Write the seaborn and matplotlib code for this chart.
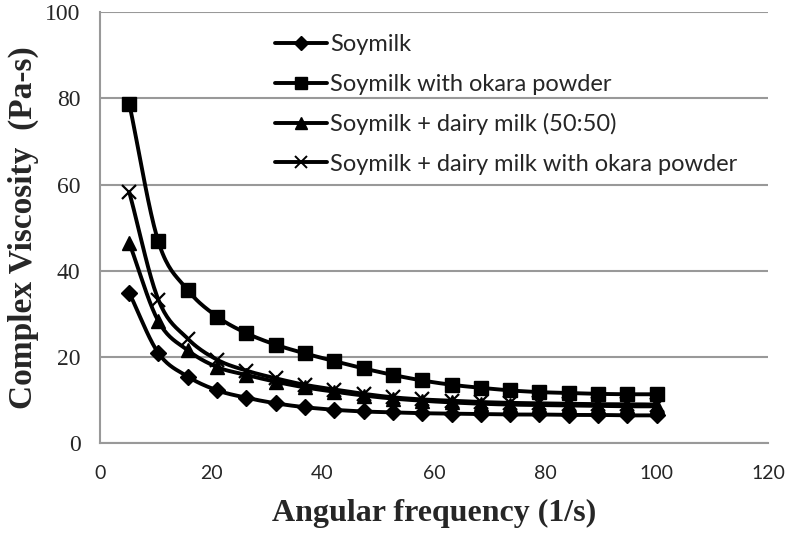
import matplotlib
matplotlib.use("Agg")
import matplotlib.pyplot as plt
import seaborn as sns
import pandas as pd
import numpy as np

# Angular frequency (1/s)
frequency = [5.3, 10.5, 15.8, 21.1, 26.3, 31.6, 36.8, 42.1, 47.4, 52.6,
             57.9, 63.2, 68.4, 73.7, 78.9, 84.2, 89.5, 94.7, 100.0]

# Complex viscosity (Pa-s) for each sample
soymilk = [34.8, 20.9, 15.4, 12.2, 10.5, 9.2, 8.3, 7.7, 7.3, 7.1,
           6.9, 6.8, 6.7, 6.6, 6.6, 6.5, 6.5, 6.4, 6.4]
soymilk_okara = [78.7, 46.8, 35.5, 29.3, 25.5, 22.8, 20.8, 19.0, 17.3, 15.8,
                 14.5, 13.5, 12.8, 12.2, 11.8, 11.6, 11.4, 11.3, 11.3]
soy_dairy = [46.4, 28.3, 21.5, 17.6, 15.8, 14.2, 12.9, 11.9, 11.0, 10.3,
             9.8, 9.4, 9.1, 8.9, 8.8, 8.7, 8.6, 8.5, 8.5]
soy_dairy_okara = [58.2, 33.3, 24.2, 19.3, 16.8, 15.0, 13.5, 12.4, 11.4, 10.6,
                   10.1, 9.8, 9.5, 9.3, 9.2, 9.1, 9.0, 9.0, 8.9]

labels = ['Soymilk', 'Soymilk with okara powder',
          'Soymilk + dairy milk (50:50)',
          'Soymilk + dairy milk with okara powder']
markers = ['D', 's', '^', 'x']
msizes = [8, 10, 10, 10]

sns.set_style('white')


#   Curva suavizada tipo Excel (Catmull-Rom) entre los puntos
def smooth(x, y, n=20):
    x = np.asarray(x, float)
    y = np.asarray(y, float)
    px = np.concatenate([[2 * x[0] - x[1]], x, [2 * x[-1] - x[-2]]])
    py = np.concatenate([[2 * y[0] - y[1]], y, [2 * y[-1] - y[-2]]])
    xs, ys = [], []
    t = np.linspace(0, 1, n, endpoint=False)
    for i in range(1, len(px) - 2):
        for p, out in ((px, xs), (py, ys)):
            p0, p1, p2, p3 = p[i - 1], p[i], p[i + 1], p[i + 2]
            out.extend(0.5 * ((2 * p1) + (-p0 + p2) * t
                              + (2 * p0 - 5 * p1 + 4 * p2 - p3) * t ** 2
                              + (-p0 + 3 * p1 - 3 * p2 + p3) * t ** 3))
    xs.append(x[-1])
    ys.append(y[-1])
    return np.array(xs), np.array(ys)


fig = plt.figure(figsize=(7.86, 5.33), dpi=100)
ax = fig.add_axes([0.127, 0.169, 0.85, 0.808])

series = [soymilk, soymilk_okara, soy_dairy, soy_dairy_okara]
for vals, lab, mk, ms in zip(series, labels, markers, msizes):
    sx, sy = smooth(frequency, vals)
    df = pd.DataFrame({'x': sx, 'y': sy})
    sns.lineplot(data=df, x='x', y='y', color='black', linewidth=2.8,
                 sort=False, ax=ax, zorder=3)
    ax.plot(frequency, vals, linestyle='none', marker=mk, markersize=ms,
            color='black', markeredgewidth=1.6 if mk == 'x' else 1, zorder=4)
    ax.plot([], [], color='black', linewidth=2.8, marker=mk,
            markersize=ms - 1, markeredgewidth=1.4 if mk == 'x' else 1, label=lab)

ax.set_xlim(0, 120)
ax.set_ylim(0, 100)
ax.set_xticks(range(0, 121, 20))
ax.set_yticks(range(0, 101, 20))
ax.yaxis.grid(True, color='#999999', linewidth=1.5)
ax.xaxis.grid(False)
ax.set_axisbelow(True)
for side in ['top', 'right']:
    ax.spines[side].set_visible(False)
for side in ['left', 'bottom']:
    ax.spines[side].set_color('#999999')
    ax.spines[side].set_linewidth(1.5)
ax.tick_params(axis='x', direction='out', length=7, width=1.5,
               color='#999999', labelsize=14, pad=9)
ax.tick_params(axis='y', direction='out', length=7, width=1.5,
               color='#999999', labelsize=17, pad=7)
for t in ax.get_xticklabels():
    t.set_fontfamily('Lato')
for t in ax.get_yticklabels():
    t.set_fontfamily('Liberation Serif')

ax.set_xlabel('Angular frequency (1/s)', fontsize=23, fontweight='bold',
              fontfamily='Liberation Serif', labelpad=12)
ax.set_ylabel('Complex Viscosity  (Pa-s)', fontsize=24, fontweight='bold',
              fontfamily='Liberation Serif', labelpad=4)

leg = ax.legend(loc='upper left', bbox_to_anchor=(0.23, 0.998), frameon=False,
                prop={'family': 'Lato', 'size': 17}, handlelength=2.2,
                handletextpad=0.15, labelspacing=0.78)

fig.savefig('out.png', dpi=100)
